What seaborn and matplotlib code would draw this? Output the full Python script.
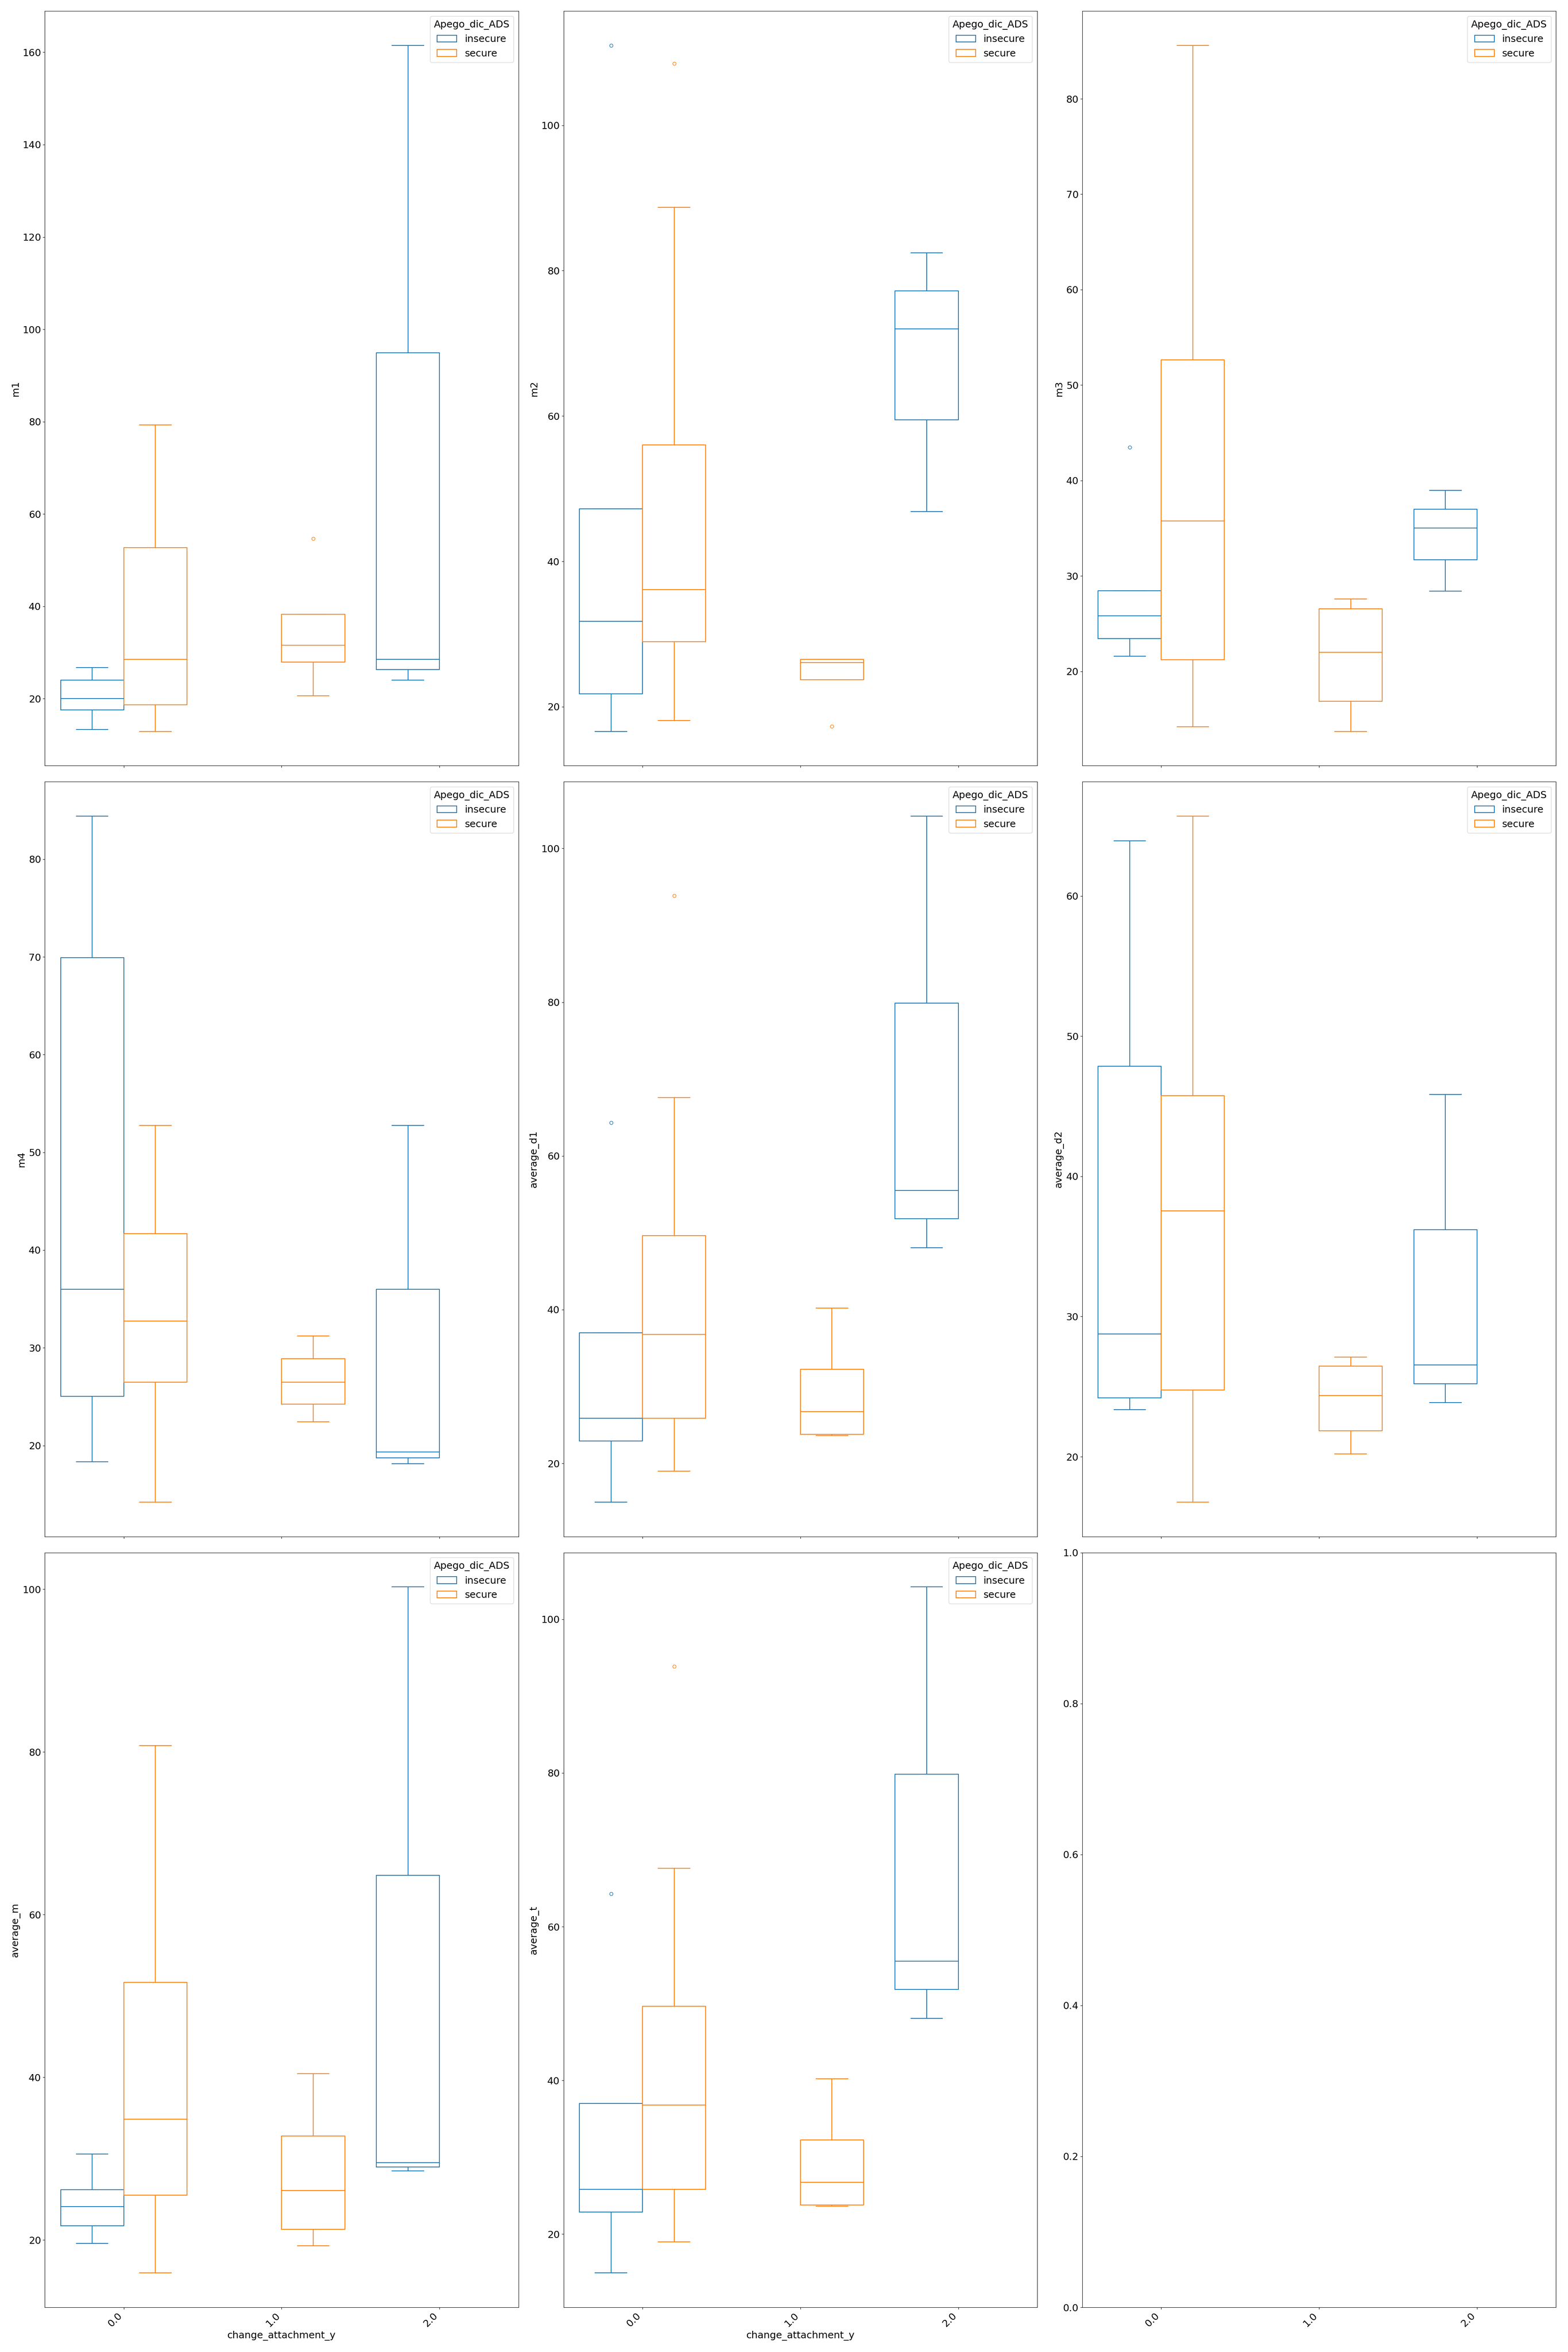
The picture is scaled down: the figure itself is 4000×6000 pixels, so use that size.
import numpy as np
import pandas as pd
import matplotlib
matplotlib.use('Agg')
import matplotlib.pyplot as plt
import seaborn as sns

plt.rcParams['font.size'] = 18

## Categories
GROUP_ORDER = [0.0, 1.0, 2.0]
HUE_ORDER = ['insecure', 'secure']
# (change_attachment_y, Apego_dic_ADS) for each sample list below
GROUP_KEYS = [(0.0, 'insecure'), (0.0, 'secure'), (1.0, 'secure'), (2.0, 'insecure')]
VARIABLES = ['m1', 'm2', 'm3', 'm4', 'average_d1', 'average_d2', 'average_m', 'average_t']

## Values (whisker low, Q1, median, Q3, whisker high, outliers)
m1_ins_0 = [13.35, 17.6, 20.05, 24.0, 26.7]
m1_sec_0 = [12.9, 18.7, 28.55, 52.7, 79.3]
m1_sec_1 = [20.65, 27.9, 27.9, 31.6, 31.6, 38.3, 38.3, 38.3, 54.7]
m1_ins_2 = [24.05, 26.35, 28.55, 94.9, 161.5]

m2_ins_0 = [16.6, 21.8, 21.8, 31.75, 31.75, 47.25, 47.25, 47.25, 111.0]
m2_sec_0 = [18.1, 28.95, 28.95, 36.1, 36.1, 56.0, 56.0, 88.7, 108.5]
m2_sec_1 = [17.3, 23.7, 23.7, 26.1, 26.1, 26.5, 26.5, 26.5, 26.5]
m2_ins_2 = [46.85, 59.5, 72.0, 77.2, 82.45]

m3_ins_0 = [21.6, 23.45, 23.45, 25.8, 25.8, 28.45, 28.45, 28.45, 43.5]
m3_sec_0 = [14.2, 21.2, 35.75, 52.65, 85.6]
m3_sec_1 = [13.7, 16.85, 22.0, 26.55, 27.6]
m3_ins_2 = [28.4, 31.7, 35.0, 37.0, 38.95]

m4_ins_0 = [18.35, 25.05, 36.0, 69.9, 84.4]
m4_sec_0 = [14.2, 26.5, 32.75, 41.7, 52.75]
m4_sec_1 = [22.45, 24.25, 26.5, 28.9, 31.2]
m4_ins_2 = [18.15, 18.75, 19.35, 36.0, 52.75]

d1_ins_0 = [14.95, 22.9, 22.9, 25.85, 25.85, 37.0, 37.0, 37.0, 64.3]
d1_sec_0 = [19.0, 25.85, 25.85, 36.8, 36.8, 49.65, 49.65, 67.6, 93.85]
d1_sec_1 = [23.65, 23.8, 26.75, 32.25, 40.2]
d1_ins_2 = [48.05, 51.85, 55.5, 79.85, 104.2]

d2_ins_0 = [23.35, 24.2, 28.75, 47.85, 63.95]
d2_sec_0 = [16.75, 24.75, 37.55, 45.75, 65.7]
d2_sec_1 = [20.2, 21.85, 24.35, 26.45, 27.1]
d2_ins_2 = [23.85, 25.2, 26.55, 36.2, 45.85]

am_ins_0 = [19.6, 21.75, 24.1, 26.2, 30.6]
am_sec_0 = [15.95, 25.5, 34.85, 51.7, 80.8]
am_sec_1 = [19.3, 21.3, 26.1, 32.8, 40.45]
am_ins_2 = [28.5, 29.0, 29.5, 64.85, 100.3]

at_ins_0 = [14.95, 22.9, 22.9, 25.85, 25.85, 37.0, 37.0, 37.0, 64.3]
at_sec_0 = [19.0, 25.85, 25.85, 36.8, 36.8, 49.65, 49.65, 67.6, 93.85]
at_sec_1 = [23.65, 23.8, 26.75, 32.25, 40.2]
at_ins_2 = [48.05, 51.85, 55.5, 79.85, 104.2]

samples = {
    'm1': [m1_ins_0, m1_sec_0, m1_sec_1, m1_ins_2],
    'm2': [m2_ins_0, m2_sec_0, m2_sec_1, m2_ins_2],
    'm3': [m3_ins_0, m3_sec_0, m3_sec_1, m3_ins_2],
    'm4': [m4_ins_0, m4_sec_0, m4_sec_1, m4_ins_2],
    'average_d1': [d1_ins_0, d1_sec_0, d1_sec_1, d1_ins_2],
    'average_d2': [d2_ins_0, d2_sec_0, d2_sec_1, d2_ins_2],
    'average_m': [am_ins_0, am_sec_0, am_sec_1, am_ins_2],
    'average_t': [at_ins_0, at_sec_0, at_sec_1, at_ins_2],
}


def long_frame(var):
    rows = []
    for (cat, hue), vals in zip(GROUP_KEYS, samples[var]):
        for v in vals:
            rows.append({'change_attachment_y': cat, 'Apego_dic_ADS': hue, var: v})
    return pd.DataFrame(rows)


fig, axes = plt.subplots(3, 3, figsize=(40, 60), sharex=True)
fig.subplots_adjust(left=0.0286, right=0.9923, bottom=0.019, top=0.9953,
                    wspace=0.0953, hspace=0.0213)

for ax, var in zip(axes.flat, VARIABLES):
    df = long_frame(var)
    sns.boxplot(data=df, x='change_attachment_y', y=var, hue='Apego_dic_ADS',
                order=GROUP_ORDER, hue_order=HUE_ORDER, fill=False, ax=ax)
    sns.move_legend(ax, 'upper right')

for ax in axes.flat:
    ax.tick_params(axis='x', labelrotation=45)
    for lab in ax.get_xticklabels():
        lab.set_ha('right')

# only the bottom row keeps the x label
for ax in axes[:2].flat:
    ax.set_xlabel('')

plt.savefig('out.png', dpi=100)
